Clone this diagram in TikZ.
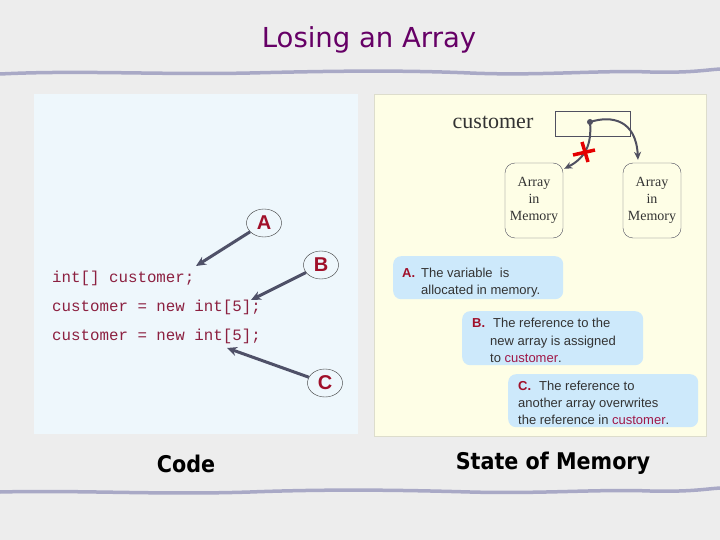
\documentclass[tikz,border=0pt]{standalone}
\usepackage{fontspec}
\setmainfont{Liberation Serif}
\newfontfamily\tahoma{DejaVu Sans Condensed}
\newfontfamily\tahomawide{DejaVu Sans}
\newfontfamily\arialf{Liberation Sans}
\newfontfamily\courf{Liberation Mono}
\usetikzlibrary{arrows.meta,shapes.geometric}
\definecolor{pagebg}{HTML}{EDEDED}
\definecolor{titlecol}{HTML}{660066}
\definecolor{wavecol}{HTML}{A9A9C6}
\definecolor{codebg}{HTML}{EEF7FC}
\definecolor{membg}{HTML}{FEFEE6}
\definecolor{memedge}{HTML}{DDDDCC}
\definecolor{codecol}{HTML}{8C2040}
\definecolor{lblcol}{HTML}{A0102A}
\definecolor{arrowcol}{HTML}{4F5168}
\definecolor{ptrcol}{HTML}{505060}
\definecolor{calloutbg}{HTML}{CDE9FB}
\definecolor{custcol}{HTML}{A01848}
\definecolor{textgrey}{HTML}{333333}
\tikzset{
  titletext/.style={font=\tahomawide\fontsize{27.5}{32}\selectfont, text=titlecol, inner sep=0pt},
  wave/.style={draw=wavecol, line width=3.5pt, line cap=round},
  codetext/.style={font=\courf\fontsize{15.8}{18}\selectfont, text=codecol, anchor=base west, inner sep=0pt},
  lblcircle/.style={ellipse, draw=textgrey, thin, minimum width=35pt, minimum height=28pt, inner sep=0pt,
    font=\arialf\bfseries\fontsize{20}{24}\selectfont, text=lblcol},
  codearrow/.style={draw=arrowcol, line width=3pt, -{Stealth[length=10pt,width=9pt]}},
  ptrbox/.style={draw=ptrcol, thin, minimum width=75pt, minimum height=25pt, inner sep=0pt},
  arraybox/.style={draw=ptrcol, thin, rounded corners=10pt, minimum width=58pt, minimum height=75pt,
    align=center, inner sep=0pt, font=\fontsize{14}{17}\selectfont, text=textgrey},
  ptrarrow/.style={draw=ptrcol, line width=2pt, -{Stealth[length=8pt,width=7pt]}},
  callout/.style={fill=calloutbg, rounded corners=8pt, anchor=north west, inner sep=0pt},
  ctext/.style={font=\arialf\fontsize{13}{16}\selectfont, text=textgrey, anchor=base west, inner sep=0pt},
  bottomlbl/.style={font=\tahoma\bfseries\fontsize{23}{27}\selectfont, text=black, inner sep=0pt},
}
\begin{document}
\begin{tikzpicture}[x=1pt,y=-1pt]
\useasboundingbox (0,0) rectangle (720,540);
\fill[pagebg] (0,0) rectangle (720,540);
% title
\node[titletext] (title) at (369,40) {Losing an Array};
% wavy lines
\draw[wave] (0,74) .. controls (80,70) and (160,75) .. (250,73) .. controls (330,71) and (400,70) .. (470,73)
  .. controls (540,76) and (600,70) .. (650,72) .. controls (690,73) and (705,70) .. (720,69);
\draw[wave] (0,492) .. controls (80,490) and (160,495) .. (250,492) .. controls (330,489) and (400,490) .. (470,492)
  .. controls (540,494) and (600,489) .. (650,491) .. controls (690,492) and (705,489) .. (720,488);
% panels
\fill[codebg] (34,94) rectangle (358,434);
\filldraw[fill=membg, draw=memedge] (374,94) rectangle (706,436);
% code
\node[codetext] (l1) at (52,282) {int[] customer;};
\node[codetext] (l2) at (52,311) {customer = new int[5];};
\node[codetext] (l3) at (52,340) {customer = new int[5];};
\node[lblcircle] (A) at (264,223) {A};
\node[lblcircle] (B) at (321,265) {B};
\node[lblcircle] (C) at (325,383) {C};
\coordinate (a1) at (196,266);
\coordinate (b1) at (251,300);
\coordinate (c1) at (227,348);
\draw[codearrow] (A) -- (a1);
\draw[codearrow] (B) -- (b1);
\draw[codearrow] (C) -- (c1);
% memory
\node[font=\fontsize{22}{26}\selectfont, text=textgrey, inner sep=0pt] (custname) at (493,122) {customer};
\node[ptrbox] (ptr) at (592.5,123.5) {};
\node[arraybox] (arr1) at (534,200.5) {Array\\in\\Memory};
\node[arraybox] (arr2) at (652,200.5) {Array\\in\\Memory};
\coordinate (dot) at (590,122);
\draw[ptrarrow] (dot) .. controls (592,145) and (585,158) .. ([xshift=1pt,yshift=-6pt]arr1.north east);
\draw[ptrarrow] (dot) .. controls (612,115) and (636,120) .. ([xshift=-14pt,yshift=3pt]arr2.north);
\fill[ptrcol] (dot) circle (3pt);
\draw[red!90!black, line width=3.5pt] (573,155) -- (595,150);
\draw[red!90!black, line width=3.5pt] (582,142) -- (588,162);
% callouts
\node[callout, minimum width=170pt, minimum height=43pt] (ca) at (393,256) {};
\node[callout, minimum width=181pt, minimum height=54pt] (cb) at (462,311) {};
\node[callout, minimum width=190pt, minimum height=53pt] (cc) at (508,374) {};
\node[ctext] (ta0) at (402,277) {\textcolor{lblcol}{\bfseries A.}};
\node[ctext] (ta1) at (421,277) {The variable\ \ is};
\node[ctext] (ta2) at (421,294) {allocated in memory.};
\node[ctext] (tb0) at (472,327) {\textcolor{lblcol}{\bfseries B.}};
\node[ctext] (tb1) at (493,327) {The reference to the};
\node[ctext] (tb2) at (490,345) {new array is assigned};
\node[ctext] (tb3) at (490,362) {to \textcolor{custcol}{customer}.};
\node[ctext] (tc0) at (518,390) {\textcolor{lblcol}{\bfseries C.}};
\node[ctext] (tc1) at (539,390) {The reference to};
\node[ctext] (tc2) at (518,407) {another array overwrites};
\node[ctext] (tc3) at (518,424) {the reference in \textcolor{custcol}{customer}.};
% bottom labels
\node[bottomlbl] (code) at (186,464) {Code};
\node[bottomlbl] (mem) at (553,463) {State of Memory};
\end{tikzpicture}
\end{document}
